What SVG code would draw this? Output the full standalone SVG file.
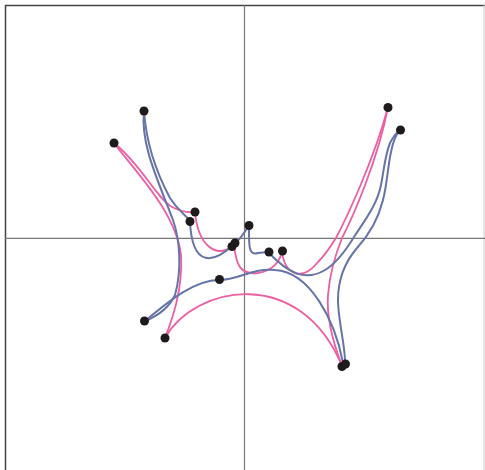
<svg xmlns="http://www.w3.org/2000/svg" width="485" height="470" viewBox="0 0 485 470">
<style>
.frame{stroke:#444;stroke-width:1.5;fill:none}
.axis{stroke:#777;stroke-width:1.2;fill:none}
.pink{stroke:#ec5fa1;stroke-width:1.8;fill:none}
.blue{stroke:#6674a8;stroke-width:2;fill:none}
.dot{fill:#1f1a1c}
</style>
<rect width="485" height="470" fill="#fff"/>
<path class="frame" d="M5.5,470 V5.5 H485"/>
<path d="M484,5 V470" stroke="#ccc" stroke-width="1" fill="none"/>
<g id="axes">
<path class="axis" d="M244.5,5 V470"/>
<path class="axis" d="M5,238.3 H485"/>
</g>
<g id="connectors">
<path class="pink" d="M114,143 C140,163 158,200 172,207 C180,211 188,213 195,212"/>
<path class="pink" d="M114,143 C134,170 176,212 181,255 C183,290 172,320 165,338"/>
<path class="pink" d="M195,212 C198,245 215,258 232,247"/>
<path class="pink" d="M234,244 C236,265 240,275 258,273 C272,271 280,262 282,251"/>
<path class="pink" d="M282,251 C284,272 300,284 318,262 C326,254 331,246 336,238 C346,219 374,160 388,107"/>
<path class="pink" d="M342,366 C334,345 326,320 328,295 C330,270 336,253 342,238 C352,219 378,160 388,107"/>
<path class="pink" d="M165,338 C195,285 300,265 342,366"/>
<path class="blue" d="M144,111 C146,140 155,170 170,198 C178,211 185,214 190,221"/>
<path class="blue" d="M144,111 C140,145 160,185 173,220 C180,240 182,270 175,295 C168,310 155,317 145,321"/>
<path class="blue" d="M190,221 C192,270 215,262 233,245"/>
<path class="blue" d="M233,245 C240,240 245,232 249,225"/>
<path class="blue" d="M249,225 C249,245 248,256 258,253 L268,252"/>
<path class="blue" d="M268,252 C288,273 305,282 325,270 C337,263 346,250 354,237 C365,220 377,205 381,185 C384,170 385,155 390,143 C393,137 396,133 400,130"/>
<path class="blue" d="M345,364 C346,350 338,320 338,300 C338,280 345,262 357,248 C369,235 378,220 383,200 C387,185 388,165 391,152 C393,142 396,134 400,130"/>
<path class="blue" d="M145,321 C170,300 195,280 219,280 C240,280 250,268 275,270 C310,272 335,320 343,363"/>
</g>
<g id="n1"><circle class="dot" cx="144" cy="111" r="4.5"/></g>
<g id="n2"><circle class="dot" cx="114" cy="143" r="4.5"/></g>
<g id="n3"><circle class="dot" cx="195" cy="212" r="4.5"/></g>
<g id="n4"><circle class="dot" cx="190" cy="221.5" r="4.5"/></g>
<g id="n5"><circle class="dot" cx="249" cy="225.5" r="4.5"/></g>
<g id="n6"><circle class="dot" cx="232" cy="246.5" r="4.5"/><circle class="dot" cx="235" cy="243" r="4.5"/></g>
<g id="n7"><circle class="dot" cx="269" cy="252" r="4.5"/></g>
<g id="n8"><circle class="dot" cx="282.5" cy="251" r="4.5"/></g>
<g id="n9"><circle class="dot" cx="219.5" cy="279.5" r="4.5"/></g>
<g id="n10"><circle class="dot" cx="144.5" cy="321" r="4.5"/></g>
<g id="n11"><circle class="dot" cx="165" cy="338" r="4.5"/></g>
<g id="n12"><circle class="dot" cx="388" cy="107.5" r="4.5"/></g>
<g id="n13"><circle class="dot" cx="400.5" cy="130" r="4.5"/></g>
<g id="n14"><circle class="dot" cx="342" cy="366.5" r="4.5"/><circle class="dot" cx="345.5" cy="364" r="4.5"/></g>
</svg>
